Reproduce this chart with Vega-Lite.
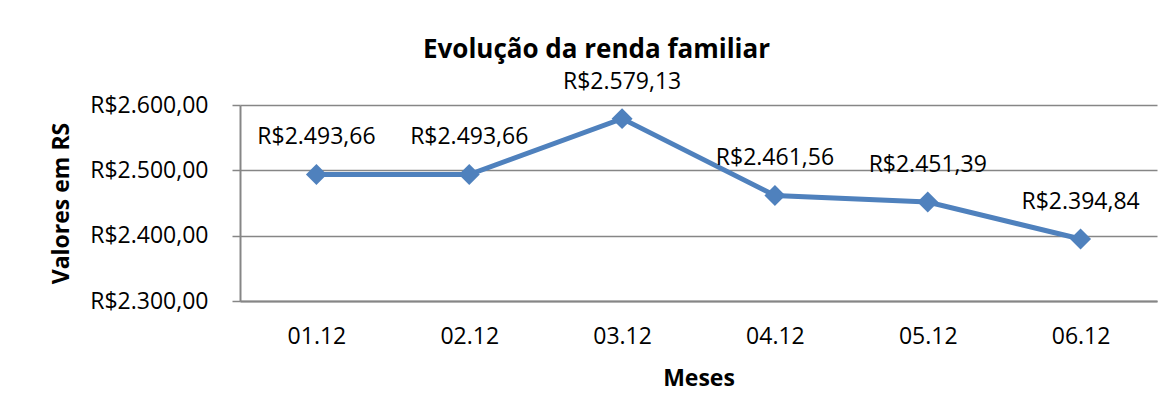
{
  "$schema": "https://vega.github.io/schema/vega-lite/v6.json",
  "autosize": {"type": "none"},
  "width": 917,
  "height": 196,
  "padding": {"left": 240, "top": 105, "right": 19, "bottom": 116},
  "background": "white",
  "config": {
    "locale": {"number": {"decimal": ",", "thousands": ".", "grouping": [3], "currency": ["R$", ""]}},
    "font": "Open Sans",
    "view": {"stroke": null}
  },
  "title": {
    "text": "Evolução da renda familiar",
    "anchor": "middle",
    "frame": "group",
    "dx": -102,
    "fontSize": 26,
    "fontWeight": "bold",
    "color": "black",
    "font": "Open Sans",
    "offset": 8
  },
  "data": {
    "values": [
      {"mes": "01.12", "valor": 2493.66},
      {"mes": "02.12", "valor": 2493.66},
      {"mes": "03.12", "valor": 2579.13},
      {"mes": "04.12", "valor": 2461.56},
      {"mes": "05.12", "valor": 2451.39},
      {"mes": "06.12", "valor": 2394.84}
    ]
  },
  "encoding": {
    "x": {
      "field": "mes",
      "type": "ordinal",
      "scale": {"type": "point", "padding": 0.5},
      "axis": {
        "title": "Meses",
        "labelAngle": 0,
        "labelFontSize": 23,
        "labelColor": "black",
        "labelPadding": 24,
        "ticks": false,
        "domainColor": "#868686",
        "domainWidth": 2,
        "titleFontSize": 23,
        "titleFontWeight": "bold",
        "titleColor": "black",
        "titlePadding": 19
      }
    },
    "y": {
      "field": "valor",
      "type": "quantitative",
      "scale": {"domain": [2300, 2600], "nice": false, "zero": false},
      "axis": {
        "title": "Valores em RS",
        "values": [2300, 2400, 2500, 2600],
        "format": "$,.2f",
        "labelFontSize": 23,
        "labelColor": "black",
        "labelPadding": 24,
        "tickSize": 8,
        "tickColor": "#868686",
        "tickWidth": 1.5,
        "domainColor": "#868686",
        "domainWidth": 2,
        "gridColor": "#868686",
        "gridWidth": 1.5,
        "titleFontSize": 23,
        "titleFontWeight": "bold",
        "titleColor": "black",
        "titlePadding": 16
      }
    }
  },
  "layer": [
    {
      "mark": {"type": "line", "color": "#4F81BD", "strokeWidth": 5},
      "encoding": {}
    },
    {
      "mark": {"type": "point", "shape": "diamond", "size": 440, "filled": true, "color": "#4F81BD", "opacity": 1},
      "encoding": {}
    },
    {
      "mark": {"type": "text", "dy": -37, "fontSize": 23, "color": "black", "font": "Open Sans"},
      "encoding": {
        "text": {"field": "valor", "type": "quantitative", "format": "$,.2f"}
      }
    }
  ]
}
